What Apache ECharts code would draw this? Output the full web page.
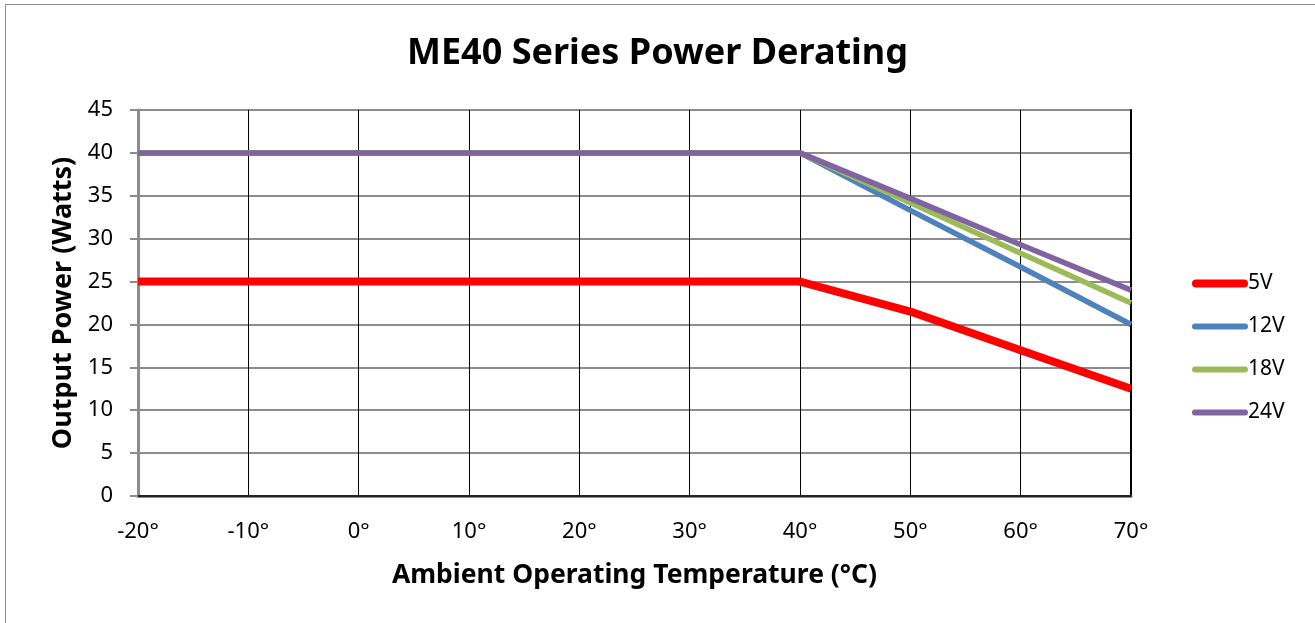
<!DOCTYPE html>
<html>
<head>
<meta charset="utf-8">
<script src="https://cdn.jsdelivr.net/npm/echarts@6/dist/echarts.min.js"></script>
<style>
html,body{margin:0;padding:0;background:#fff;overflow:hidden;}
#frame{position:absolute;left:5px;top:4px;width:1400px;height:700px;border:1px solid #8c8c8c;box-sizing:border-box;}
#chart{position:absolute;left:0;top:0;width:1315px;height:623px;}
</style>
</head>
<body>
<div id="frame"></div>
<div id="chart"></div>
<script>
const categories = ['-20°','-10°','0°','10°','20°','30°','40°','50°','60°','70°'];
const seriesNames = ['5V','12V','18V','24V'];
const v5  = [25,25,25,25,25,25,25,21.5,17,12.5];
const v12 = [40,40,40,40,40,40,40,33.3,26.7,20];
const v18 = [40,40,40,40,40,40,40,34.2,28.3,22.5];
const v24 = [40,40,40,40,40,40,40,34.7,29.3,24];
const yTicks = {min:0, max:45, interval:5};

const font = 'Noto Sans, Open Sans, sans-serif';
const chart = echarts.init(document.getElementById('chart'));
function stadium(w, h){
  const r = h/2;
  return 'path://M'+r+',0 L'+(w-r)+',0 A'+r+','+r+' 0 0 1 '+(w-r)+','+h+' L'+r+','+h+' A'+r+','+r+' 0 0 1 '+r+',0 Z';
}
function mk(name, data, color, w){
  return {name, type:'line', data, symbol:'none', smooth:false, z: 3,
    lineStyle:{color, width:w, cap:'butt', join:'round'}, itemStyle:{color}};
}
chart.setOption({
  animation:false,
  title:{text:'ME40 Series Power Derating', left:'center', top:31,
    textStyle:{fontFamily:font, fontSize:36, fontWeight:'bold', color:'#000'}},
  legend:{orient:'vertical', left:1187, top:268, itemGap:22, itemWidth:56, itemHeight:21,
    symbolKeepAspect:true,
    textStyle:{fontFamily:font, fontSize:21, color:'#000', padding:[0,0,0,-5]},
    data:[
      {name:seriesNames[0], icon:stadium(56,8)},
      {name:seriesNames[1], icon:stadium(56,6)},
      {name:seriesNames[2], icon:stadium(56,6)},
      {name:seriesNames[3], icon:stadium(56,6)}
    ]},
  grid:{left:138, right:184, top:110, bottom:127},
  xAxis:[{type:'category', data:categories, boundaryGap:false,
    axisLine:{lineStyle:{color:'#8c8c8c', width:3}},
    axisTick:{show:false},
    axisLabel:{fontFamily:font, fontSize:22, color:'#000', margin:25},
    splitLine:{show:true, lineStyle:{color:'#000', width:1}},
    name:'Ambient Operating Temperature (°C)', nameLocation:'middle', nameGap:66,
    nameTextStyle:{fontFamily:font, fontSize:26.5, fontWeight:'bold', color:'#000'}},
   {type:'category', data:categories, boundaryGap:false, position:'top',
    axisLine:{lineStyle:{color:'#000', width:1.5}}, axisTick:{show:false}, axisLabel:{show:false}}],
  yAxis:[{type:'value', min:yTicks.min, max:yTicks.max, interval:yTicks.interval,
    axisLine:{show:true, lineStyle:{color:'#8c8c8c', width:3}},
    axisTick:{show:true, length:8, lineStyle:{color:'#8c8c8c', width:2}},
    axisLabel:{fontFamily:font, fontSize:22, color:'#000', margin:25},
    splitLine:{show:true, lineStyle:{color:'#8c8c8c', width:2}},
    name:'Output Power (Watts)', nameLocation:'middle', nameGap:61, nameRotate:90,
    nameTextStyle:{fontFamily:font, fontSize:27, fontWeight:'bold', color:'#000'}},
   {type:'value', min:yTicks.min, max:yTicks.max, interval:yTicks.interval, position:'right',
    axisLine:{show:true, lineStyle:{color:'#000', width:2}}, axisTick:{show:false}, axisLabel:{show:false}, splitLine:{show:false}}],
  series:[mk(seriesNames[0],v5,'#ff0000',8), mk(seriesNames[1],v12,'#4f81bd',5.5), mk(seriesNames[2],v18,'#9bbb59',5.5), mk(seriesNames[3],v24,'#8064a2',5.5)]
});
</script>
</body>
</html>
